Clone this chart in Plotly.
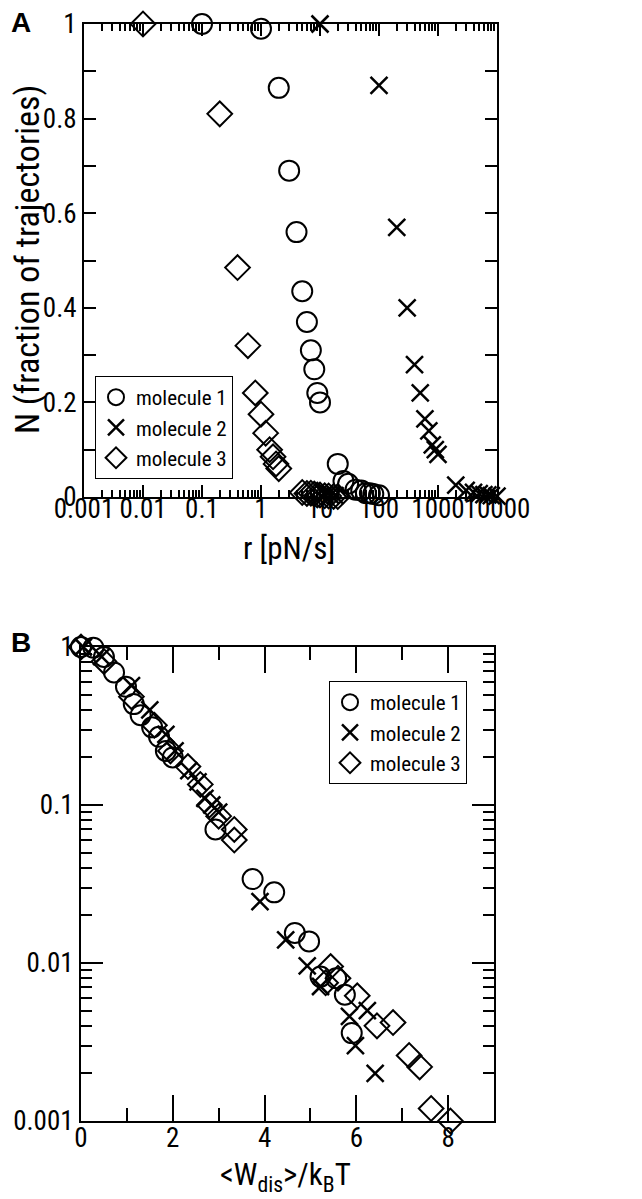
import plotly.graph_objects as go

# panel A: N (fraction of trajectories) vs loading rate r [pN/s]
m1_r = [0.1, 1, 2, 3, 4, 5, 6, 7, 8, 9, 10, 20, 25, 30, 40, 50, 60, 70, 80, 100]
m1_N = [1.0, 0.99, 0.865, 0.69, 0.56, 0.435, 0.37, 0.31, 0.27, 0.22, 0.20,
        0.07, 0.034, 0.028, 0.0155, 0.0137, 0.0082, 0.008, 0.0063, 0.0036]

m2_r = [10, 12, 15, 18, 100, 200, 300, 400, 500, 600, 700, 800, 900, 1000,
        2000, 3000, 4000, 5000, 6000, 7000, 8000, 10000]
m2_N = [1.0, 0.006, 0.004, 0.003, 0.87, 0.57, 0.40, 0.28, 0.22, 0.165, 0.14, 0.11, 0.10, 0.09,
        0.025, 0.014, 0.0096, 0.0071, 0.005, 0.0046, 0.003, 0.002]

m3_r = [0.01, 0.2, 0.4, 0.6, 0.8, 1.0, 1.2, 1.4, 1.6, 1.8, 2.0,
        5, 6, 7, 8, 9, 10, 12, 14, 17, 20]
m3_N = [1.0, 0.81, 0.485, 0.32, 0.22, 0.175, 0.135, 0.10, 0.085, 0.07, 0.06,
        0.0095, 0.0075, 0.008, 0.0062, 0.0042, 0.004, 0.0026, 0.0022, 0.0012, 0.001]

# panel B: N vs <W_dis>/kBT
m1_W = [0.0, 0.27, 0.5, 0.72, 0.98, 1.15, 1.3, 1.55, 1.7, 1.85, 2.0,
        2.93, 3.74, 4.21, 4.66, 4.97, 5.22, 5.56, 5.75, 5.9]
m1_NB = m1_N

m2_W = [0.05, 0.45, 1.1, 1.5, 1.85, 2.05, 2.35, 2.55, 2.7, 2.85, 3.0,
        3.9, 4.46, 4.93, 5.22, 5.85, 6.24, 5.98, 6.41]
m2_NB = [1.0, 0.87, 0.57, 0.40, 0.28, 0.22, 0.165, 0.14, 0.11, 0.10, 0.09,
         0.0245, 0.014, 0.0096, 0.0071, 0.0046, 0.005, 0.003, 0.002]

m3_W = [0.0, 0.5, 1.1, 1.6, 1.95, 2.33, 2.6, 2.8, 3.0, 3.34, 3.34,
        5.44, 5.33, 5.6, 6.02, 6.8, 6.45, 7.15, 7.38, 7.63, 8.05]
m3_NB = m3_N

names = ["molecule 1", "molecule 2", "molecule 3"]

FONT = "Liberation Sans Narrow, Roboto Condensed, Noto Sans, Arial"
W, H = 642, 1199

sym = {
    "molecule 1": dict(symbol="circle-open", size=20, color="black", line=dict(width=2, color="black")),
    "molecule 2": dict(symbol="x-thin-open", size=17, color="black", line=dict(width=2.5, color="black")),
    "molecule 3": dict(symbol="diamond-open", size=19, color="black", line=dict(width=2, color="black")),
}

fig = go.Figure()

for name, xs, ys in zip(names, [m1_r, m2_r, m3_r], [m1_N, m2_N, m3_N]):
    fig.add_trace(go.Scatter(x=xs, y=ys, mode="markers", name=name, marker=sym[name],
                             cliponaxis=False, xaxis="x", yaxis="y", legend="legend"))

for name, xs, ys in zip(names, [m1_W, m2_W, m3_W], [m1_NB, m2_NB, m3_NB]):
    fig.add_trace(go.Scatter(x=xs, y=ys, mode="markers", name=name, marker=sym[name],
                             cliponaxis=False, xaxis="x2", yaxis="y2", legend="legend2"))


def px(x):
    return x / W


def py(y):
    return 1 - y / H


axis_common = dict(showline=True, linecolor="black", linewidth=2, mirror="allticks",
                   ticks="inside", tickcolor="black", tickwidth=2, showgrid=False,
                   zeroline=False, automargin=False, tickangle=0,
                   tickfont=dict(family=FONT, size=27, color="black"))

fig.update_layout(
    width=W, height=H,
    margin=dict(l=0, r=0, t=0, b=0),
    paper_bgcolor="white", plot_bgcolor="white",
    font=dict(family=FONT, color="black"),
    showlegend=True,
    xaxis=dict(type="log", range=[-3, 4], domain=[px(76), px(489)], anchor="y",
               tickvals=[0.001, 0.01, 0.1, 1, 10, 100, 1000, 10000],
               ticktext=["0.001", "0.01", "0.1", "1", "10", "100", "1000", "10000"],
               ticklen=12, ticklabelstandoff=-13,
               minor=dict(dtick="D1", ticks="inside", ticklen=7, tickcolor="black", tickwidth=2),
               **axis_common),
    yaxis=dict(range=[0, 1], domain=[py(489), py(16)], anchor="x", dtick=0.2,
               ticklen=12, minor=dict(dtick=0.1, ticks="inside", ticklen=12, tickcolor="black", tickwidth=2),
               **axis_common),
    xaxis2=dict(range=[0, 9], domain=[px(73), px(486)], anchor="y2", dtick=2,
                ticklen=26, ticklabelstandoff=-8,
                minor=dict(dtick=1, ticks="inside", ticklen=13, tickcolor="black", tickwidth=2),
                **axis_common),
    yaxis2=dict(type="log", range=[-3, 0], domain=[py(1113), py(639)], anchor="x2",
                tickvals=[0.001, 0.01, 0.1, 1], ticktext=["0.001", "0.01", "0.1", "1"],
                ticklen=22, minor=dict(dtick="D1", ticks="inside", ticklen=11, tickcolor="black", tickwidth=2),
                **axis_common),
    legend=dict(x=px(87), y=py(368), xanchor="left", yanchor="top",
                bordercolor="black", borderwidth=1, bgcolor="white",
                font=dict(family=FONT, size=21, color="black"), tracegroupgap=0, itemwidth=30),
    legend2=dict(x=px(321), y=py(673), xanchor="left", yanchor="top",
                 bordercolor="black", borderwidth=1, bgcolor="white",
                 font=dict(family=FONT, size=21, color="black"), tracegroupgap=0, itemwidth=30),
    annotations=[
        dict(text="<b>A</b>", x=px(1), y=py(-3), xref="paper", yref="paper",
             xanchor="left", yanchor="top", showarrow=False,
             font=dict(family="Liberation Sans, Arial", size=28, color="black")),
        dict(text="<b>B</b>", x=px(1), y=py(617), xref="paper", yref="paper",
             xanchor="left", yanchor="top", showarrow=False,
             font=dict(family="Liberation Sans, Arial", size=28, color="black")),
        dict(text="N (fraction of trajectories)", x=px(19), y=py(252), xref="paper", yref="paper",
             xanchor="center", yanchor="middle", textangle=-90, showarrow=False,
             font=dict(family=FONT, size=34, color="black")),
        dict(text="r [pN/s]", x=px(281), y=py(541), xref="paper", yref="paper",
             xanchor="center", yanchor="middle", showarrow=False,
             font=dict(family=FONT, size=31, color="black")),
        dict(text="<W<sub>dis</sub>>/k<sub>B</sub>T", x=px(277), y=py(1168), xref="paper", yref="paper",
             xanchor="center", yanchor="middle", showarrow=False,
             font=dict(family=FONT, size=31, color="black")),
    ],
)

fig.write_html("out.html")
